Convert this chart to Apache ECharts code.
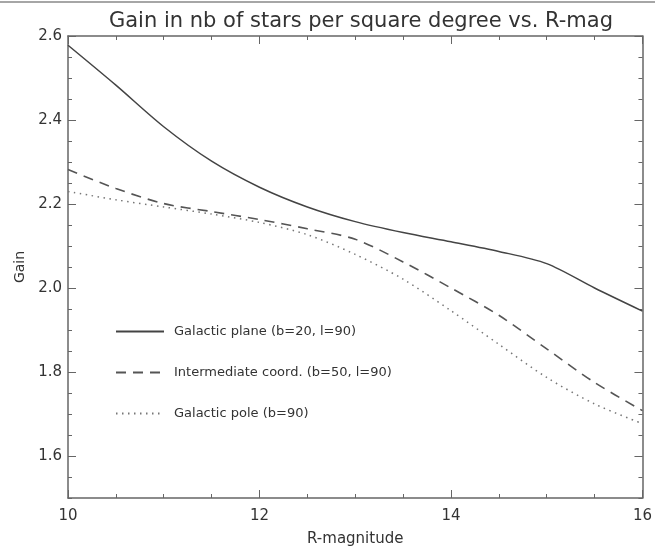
<!DOCTYPE html>
<html>
<head>
<meta charset="utf-8">
<title>Gain vs R-mag</title>
<script src="https://cdn.jsdelivr.net/npm/echarts@6/dist/echarts.min.js"></script>
<style>
	html, body { margin: 0; padding: 0; background: #fff; }
	#chart { width: 655px; height: 552px; }
</style>
</head>
<body>
<div id="chart"></div>
<script>
	// R magnitude sample points
	var rMag = [10, 10.5, 11, 11.5, 12, 12.5, 13, 13.5, 14, 14.5, 15, 15.5, 16];

	// gain
	var plane = [2.578, 2.483, 2.384, 2.302, 2.240, 2.193, 2.158, 2.132, 2.110, 2.087, 2.058, 2.000, 1.945];
	var intermediate = [2.282, 2.237, 2.201, 2.182, 2.163, 2.141, 2.116, 2.062, 2.000, 1.935, 1.855, 1.775, 1.708];
	var pole = [2.230, 2.210, 2.193, 2.176, 2.156, 2.127, 2.080, 2.021, 1.946, 1.866, 1.787, 1.724, 1.677];

	var seriesNames = ['Galactic plane (b=20, l=90)', 'Intermediate coord. (b=50, l=90)', 'Galactic pole (b=90)'];

	// major y ticks (1.5 is not a multiple of 0.2, so give them by hand)
	var yMajor = [1.6, 1.8, 2.0, 2.2, 2.4, 2.6];

	var frameColor = '#666';
	var textColor = '#333';
	var font = 'DejaVu Sans';

	function pairs(xs, ys) {
		var out = [];
		for (var i = 0; i < xs.length; i++) {
			out.push([xs[i], ys[i]]);
		}
		return out;
	}

	function xAxisDef(pos, showLabel) {
		return {
			type: 'value',
			position: pos,
			min: 10,
			max: 16,
			interval: 2,
			name: showLabel ? 'R-magnitude' : '',
			nameLocation: 'middle',
			nameGap: 34,
			nameTextStyle: { color: textColor, fontSize: 15, fontFamily: font },
			axisLine: { show: true, onZero: false, lineStyle: { color: frameColor, width: 1.5 } },
			axisTick: { show: true, inside: true, length: 8, lineStyle: { color: frameColor } },
			minorTick: { show: true, splitNumber: 4, length: 4, lineStyle: { color: frameColor } },
			axisLabel: { show: showLabel, color: textColor, fontSize: 15, fontFamily: font, margin: 11 },
			splitLine: { show: false },
			minorSplitLine: { show: false }
		};
	}

	// minor ticks every 0.05
	function yMinorDef(pos) {
		return {
			type: 'value',
			position: pos,
			min: 1.5,
			max: 2.6,
			interval: 0.05,
			axisLine: { show: true, onZero: false, lineStyle: { color: frameColor, width: 1.5 } },
			axisTick: { show: true, inside: true, length: 4, lineStyle: { color: frameColor } },
			axisLabel: { show: false },
			splitLine: { show: false }
		};
	}

	// major ticks + labels
	function yMajorDef(pos, showLabel) {
		return {
			type: 'value',
			position: pos,
			min: 1.5,
			max: 2.6,
			name: showLabel ? 'Gain' : '',
			nameLocation: 'middle',
			nameGap: 41,
			nameTextStyle: { color: textColor, fontSize: 14, fontFamily: font },
			axisLine: { show: false },
			axisTick: { show: true, inside: true, length: 8, customValues: yMajor, lineStyle: { color: frameColor } },
			axisLabel: {
				show: showLabel,
				customValues: yMajor,
				color: textColor,
				fontSize: 15,
				fontFamily: font,
				margin: 6,
				formatter: function (v) { return v.toFixed(1); }
			},
			splitLine: { show: false }
		};
	}

	var option = {
		animation: false,
		backgroundColor: '#fff',
		title: {
			text: 'Gain in nb of stars per square degree vs. R-mag',
			left: 356,
			textAlign: 'center',
			top: 6,
			textStyle: { color: textColor, fontSize: 21, fontWeight: 'normal', fontFamily: font }
		},
		// thin frame line along the top of the picture
		graphic: [
			{
				type: 'line',
				shape: { x1: 0, y1: 2, x2: 655, y2: 2 },
				style: { stroke: '#888', lineWidth: 1.5 }
			}
		],
		legend: {
			orient: 'vertical',
			left: 110,
			top: 320,
			itemWidth: 48,
			itemHeight: 12,
			itemGap: 28,
			data: seriesNames,
			itemStyle: { opacity: 0 },
			textStyle: { color: textColor, fontSize: 13, fontFamily: font, padding: [0, 0, 0, 5] }
		},
		grid: {
			left: 68,
			right: 10,
			top: 36,
			bottom: 52
		},
		xAxis: [
			xAxisDef('bottom', true),
			xAxisDef('top', false)
		],
		yAxis: [
			yMinorDef('left'),
			yMajorDef('left', true),
			yMinorDef('right'),
			yMajorDef('right', false)
		],
		series: [
			{
				name: seriesNames[0],
				type: 'line',
				smooth: 0.3,
				symbol: 'none',
				lineStyle: { color: '#444', width: 1.5, type: 'solid' },
				itemStyle: { color: '#444' },
				data: pairs(rMag, plane)
			},
			{
				name: seriesNames[1],
				type: 'line',
				smooth: 0.3,
				symbol: 'none',
				lineStyle: { color: '#555', width: 1.6, type: [10, 7] },
				itemStyle: { color: '#555' },
				data: pairs(rMag, intermediate)
			},
			{
				name: seriesNames[2],
				type: 'line',
				smooth: 0.3,
				symbol: 'none',
				lineStyle: { color: '#777', width: 1.5, type: [1.5, 4.5] },
				itemStyle: { color: '#777' },
				data: pairs(rMag, pole)
			}
		]
	};

	var chart = echarts.init(document.getElementById('chart'));
	chart.setOption(option);
</script>
</body>
</html>
